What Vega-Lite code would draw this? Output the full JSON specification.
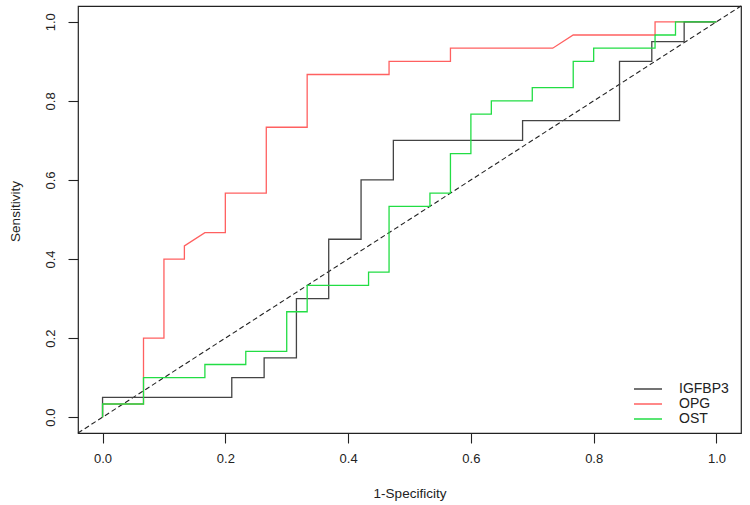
{
  "$schema": "https://vega.github.io/schema/vega-lite/v6.json",
  "width": 663,
  "height": 427,
  "autosize": {"type": "none"},
  "padding": {"left": 78, "top": 6, "right": 9, "bottom": 72},
  "background": "white",
  "config": {
    "view": {"stroke": "#222", "strokeWidth": 1.2},
    "font": "Liberation Sans"
  },
  "datasets": {
    "roc": [
      {"curve": "OPG", "i": 0, "fpr": 0, "tpr": 0},
      {"curve": "OPG", "i": 1, "fpr": 0, "tpr": 0.0333},
      {"curve": "OPG", "i": 2, "fpr": 0.0667, "tpr": 0.0333},
      {"curve": "OPG", "i": 3, "fpr": 0.0667, "tpr": 0.2},
      {"curve": "OPG", "i": 4, "fpr": 0.1, "tpr": 0.2},
      {"curve": "OPG", "i": 5, "fpr": 0.1, "tpr": 0.4},
      {"curve": "OPG", "i": 6, "fpr": 0.1333, "tpr": 0.4},
      {"curve": "OPG", "i": 7, "fpr": 0.1333, "tpr": 0.4333},
      {"curve": "OPG", "i": 8, "fpr": 0.1667, "tpr": 0.4667},
      {"curve": "OPG", "i": 9, "fpr": 0.2, "tpr": 0.4667},
      {"curve": "OPG", "i": 10, "fpr": 0.2, "tpr": 0.5667},
      {"curve": "OPG", "i": 11, "fpr": 0.2667, "tpr": 0.5667},
      {"curve": "OPG", "i": 12, "fpr": 0.2667, "tpr": 0.7333},
      {"curve": "OPG", "i": 13, "fpr": 0.3333, "tpr": 0.7333},
      {"curve": "OPG", "i": 14, "fpr": 0.3333, "tpr": 0.8667},
      {"curve": "OPG", "i": 15, "fpr": 0.4667, "tpr": 0.8667},
      {"curve": "OPG", "i": 16, "fpr": 0.4667, "tpr": 0.9},
      {"curve": "OPG", "i": 17, "fpr": 0.5667, "tpr": 0.9},
      {"curve": "OPG", "i": 18, "fpr": 0.5667, "tpr": 0.9333},
      {"curve": "OPG", "i": 19, "fpr": 0.7333, "tpr": 0.9333},
      {"curve": "OPG", "i": 20, "fpr": 0.7667, "tpr": 0.9667},
      {"curve": "OPG", "i": 21, "fpr": 0.9, "tpr": 0.9667},
      {"curve": "OPG", "i": 22, "fpr": 0.9, "tpr": 1},
      {"curve": "OPG", "i": 23, "fpr": 1, "tpr": 1},

      {"curve": "IGFBP3", "i": 0, "fpr": 0, "tpr": 0},
      {"curve": "IGFBP3", "i": 1, "fpr": 0, "tpr": 0.05},
      {"curve": "IGFBP3", "i": 2, "fpr": 0.2105, "tpr": 0.05},
      {"curve": "IGFBP3", "i": 3, "fpr": 0.2105, "tpr": 0.1},
      {"curve": "IGFBP3", "i": 4, "fpr": 0.2632, "tpr": 0.1},
      {"curve": "IGFBP3", "i": 5, "fpr": 0.2632, "tpr": 0.15},
      {"curve": "IGFBP3", "i": 6, "fpr": 0.3158, "tpr": 0.15},
      {"curve": "IGFBP3", "i": 7, "fpr": 0.3158, "tpr": 0.3},
      {"curve": "IGFBP3", "i": 8, "fpr": 0.3684, "tpr": 0.3},
      {"curve": "IGFBP3", "i": 9, "fpr": 0.3684, "tpr": 0.45},
      {"curve": "IGFBP3", "i": 10, "fpr": 0.4211, "tpr": 0.45},
      {"curve": "IGFBP3", "i": 11, "fpr": 0.4211, "tpr": 0.6},
      {"curve": "IGFBP3", "i": 12, "fpr": 0.4737, "tpr": 0.6},
      {"curve": "IGFBP3", "i": 13, "fpr": 0.4737, "tpr": 0.7},
      {"curve": "IGFBP3", "i": 14, "fpr": 0.6842, "tpr": 0.7},
      {"curve": "IGFBP3", "i": 15, "fpr": 0.6842, "tpr": 0.75},
      {"curve": "IGFBP3", "i": 16, "fpr": 0.8421, "tpr": 0.75},
      {"curve": "IGFBP3", "i": 17, "fpr": 0.8421, "tpr": 0.9},
      {"curve": "IGFBP3", "i": 18, "fpr": 0.8947, "tpr": 0.9},
      {"curve": "IGFBP3", "i": 19, "fpr": 0.8947, "tpr": 0.95},
      {"curve": "IGFBP3", "i": 20, "fpr": 0.9474, "tpr": 0.95},
      {"curve": "IGFBP3", "i": 21, "fpr": 0.9474, "tpr": 1},
      {"curve": "IGFBP3", "i": 22, "fpr": 1, "tpr": 1},

      {"curve": "OST", "i": 0, "fpr": 0, "tpr": 0},
      {"curve": "OST", "i": 1, "fpr": 0, "tpr": 0.0333},
      {"curve": "OST", "i": 2, "fpr": 0.0667, "tpr": 0.0333},
      {"curve": "OST", "i": 3, "fpr": 0.0667, "tpr": 0.1},
      {"curve": "OST", "i": 4, "fpr": 0.1667, "tpr": 0.1},
      {"curve": "OST", "i": 5, "fpr": 0.1667, "tpr": 0.1333},
      {"curve": "OST", "i": 6, "fpr": 0.2333, "tpr": 0.1333},
      {"curve": "OST", "i": 7, "fpr": 0.2333, "tpr": 0.1667},
      {"curve": "OST", "i": 8, "fpr": 0.3, "tpr": 0.1667},
      {"curve": "OST", "i": 9, "fpr": 0.3, "tpr": 0.2667},
      {"curve": "OST", "i": 10, "fpr": 0.3333, "tpr": 0.2667},
      {"curve": "OST", "i": 11, "fpr": 0.3333, "tpr": 0.3333},
      {"curve": "OST", "i": 12, "fpr": 0.4333, "tpr": 0.3333},
      {"curve": "OST", "i": 13, "fpr": 0.4333, "tpr": 0.3667},
      {"curve": "OST", "i": 14, "fpr": 0.4667, "tpr": 0.3667},
      {"curve": "OST", "i": 15, "fpr": 0.4667, "tpr": 0.5333},
      {"curve": "OST", "i": 16, "fpr": 0.5333, "tpr": 0.5333},
      {"curve": "OST", "i": 17, "fpr": 0.5333, "tpr": 0.5667},
      {"curve": "OST", "i": 18, "fpr": 0.5667, "tpr": 0.5667},
      {"curve": "OST", "i": 19, "fpr": 0.5667, "tpr": 0.6667},
      {"curve": "OST", "i": 20, "fpr": 0.6, "tpr": 0.6667},
      {"curve": "OST", "i": 21, "fpr": 0.6, "tpr": 0.7667},
      {"curve": "OST", "i": 22, "fpr": 0.6333, "tpr": 0.7667},
      {"curve": "OST", "i": 23, "fpr": 0.6333, "tpr": 0.8},
      {"curve": "OST", "i": 24, "fpr": 0.7, "tpr": 0.8},
      {"curve": "OST", "i": 25, "fpr": 0.7, "tpr": 0.8333},
      {"curve": "OST", "i": 26, "fpr": 0.7667, "tpr": 0.8333},
      {"curve": "OST", "i": 27, "fpr": 0.7667, "tpr": 0.9},
      {"curve": "OST", "i": 28, "fpr": 0.8, "tpr": 0.9},
      {"curve": "OST", "i": 29, "fpr": 0.8, "tpr": 0.9333},
      {"curve": "OST", "i": 30, "fpr": 0.9, "tpr": 0.9333},
      {"curve": "OST", "i": 31, "fpr": 0.9, "tpr": 0.9667},
      {"curve": "OST", "i": 32, "fpr": 0.9333, "tpr": 0.9667},
      {"curve": "OST", "i": 33, "fpr": 0.9333, "tpr": 1},
      {"curve": "OST", "i": 34, "fpr": 1, "tpr": 1}
    ],
    "diag": [
      {"fpr": -0.04, "tpr": -0.04},
      {"fpr": 1.04, "tpr": 1.04}
    ]
  },
  "layer": [
    {
      "data": {"name": "diag"},
      "mark": {"type": "line", "color": "#222", "strokeWidth": 1.1, "strokeDash": [5, 3]},
      "encoding": {
        "x": {"field": "fpr", "type": "quantitative", "scale": {"domain": [-0.04, 1.04], "nice": false, "zero": false}},
        "y": {"field": "tpr", "type": "quantitative", "scale": {"domain": [-0.04, 1.04], "nice": false, "zero": false}}
      }
    },
    {
      "data": {"name": "roc"},
      "mark": {"type": "line", "strokeWidth": 1.3},
      "encoding": {
        "x": {
          "field": "fpr", "type": "quantitative",
          "scale": {"domain": [-0.04, 1.04], "nice": false, "zero": false},
          "axis": {
            "values": [0, 0.2, 0.4, 0.6, 0.8, 1.0], "format": ".1f", "grid": false, "domain": false,
            "tickSize": 10, "tickColor": "#222", "tickWidth": 1.1,
            "labelFontSize": 13, "labelColor": "#222", "labelPadding": 15, "labelBaseline": "middle",
            "title": "1-Specificity", "titleFontSize": 13.5, "titleFontWeight": "normal", "titleColor": "#222",
            "titleY": 60, "titleBaseline": "middle"
          }
        },
        "y": {
          "field": "tpr", "type": "quantitative",
          "scale": {"domain": [-0.04, 1.04], "nice": false, "zero": false},
          "axis": {
            "values": [0, 0.2, 0.4, 0.6, 0.8, 1.0], "format": ".1f", "grid": false, "domain": false,
            "tickSize": 10, "tickColor": "#222", "tickWidth": 1.1,
            "labelFontSize": 13, "labelColor": "#222", "labelAngle": 270, "labelAlign": "center", "labelBaseline": "middle", "labelPadding": 18,
            "title": "Sensitivity", "titleFontSize": 13.5, "titleFontWeight": "normal", "titleColor": "#222",
            "titleAngle": 270, "titleX": -63, "titleY": 205, "titleAlign": "center", "titleBaseline": "middle"
          }
        },
        "color": {
          "field": "curve", "type": "nominal",
          "scale": {"domain": ["IGFBP3", "OPG", "OST"], "range": ["#444444", "#ff6060", "#22dd44"]},
          "legend": {
            "title": null, "orient": "none", "legendX": 562, "legendY": 375,
            "symbolType": "M-2,0H2", "symbolSize": 196, "symbolStrokeWidth": 1.5,
            "labelFontSize": 14, "labelColor": "#222", "labelOffset": 23, "rowPadding": 0
          }
        },
        "order": {"field": "i", "type": "quantitative"}
      }
    }
  ]
}
